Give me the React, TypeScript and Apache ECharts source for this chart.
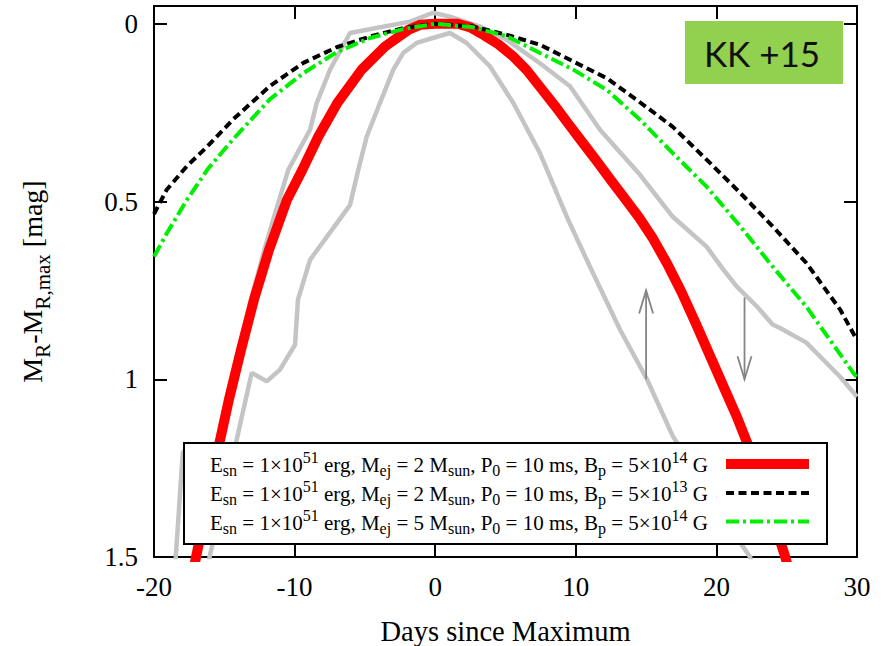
import React, { useEffect, useRef } from "react";
import * as echarts from "echarts";

// ---- data (days since maximum, magnitude below peak) ----
const redModel: [number, number][] = [
  [-17.3, 1.56], [-17.01, 1.5], [-16.16, 1.339], [-15.45, 1.198], [-14.67, 1.057], [-13.81, 0.917],
  [-12.89, 0.776], [-11.82, 0.636], [-10.54, 0.495], [-9.45, 0.411], [-8.31, 0.317], [-6.96, 0.223],
  [-5.23, 0.129], [-3.57, 0.064], [-1.91, 0.017], [-1.08, 0.003], [0, 0], [1.6, 0], [2.5, 0.01],
  [3.5, 0.033], [4.5, 0.058], [5.5, 0.09], [6.5, 0.13], [7.5, 0.18], [8.5, 0.23], [9.5, 0.283],
  [10.5, 0.335], [11.5, 0.387], [12.5, 0.44], [13.5, 0.492], [14.5, 0.545], [15.5, 0.605],
  [16.5, 0.675], [17.5, 0.753], [18.5, 0.84], [19.5, 0.93], [20.5, 1.02], [21.5, 1.11],
  [22.5, 1.21], [23.5, 1.32], [24.5, 1.45], [24.9, 1.5], [25.1, 1.53],
];
const blackModel: [number, number][] = [
  [-20, 0.535], [-19.1, 0.467], [-17.65, 0.4], [-16.2, 0.345], [-14.4, 0.27], [-11.75, 0.175],
  [-9.38, 0.11], [-7.01, 0.066], [-4.64, 0.036], [-2.27, 0.012], [0, 0], [2.71, 0.008], [5.09, 0.031],
  [7.45, 0.059], [9.82, 0.106], [12.2, 0.153], [14.4, 0.216], [16.9, 0.29], [19.3, 0.382], [21.7, 0.476],
  [24.0, 0.57], [26.4, 0.673], [28.8, 0.804], [30, 0.89],
];
const greenModel: [number, number][] = [
  [-20, 0.655], [-19.1, 0.59], [-17.65, 0.495], [-16.2, 0.41], [-14.4, 0.326], [-11.75, 0.212],
  [-9.38, 0.139], [-7.01, 0.08], [-4.64, 0.04], [-2.29, 0.015], [0, 0], [2.7, 0.01], [5.09, 0.035],
  [7.45, 0.082], [9.82, 0.129], [12.2, 0.186], [14.57, 0.27], [16.9, 0.364], [19.3, 0.458], [21.7, 0.57],
  [24.0, 0.683], [26.4, 0.796], [29.7, 0.98], [30, 0.995],
];
const grayWide: [number, number][] = [
  [-18.6, 1.55], [-18.45, 1.5], [-17.95, 1.204], [-15.6, 1.19], [-14.85, 1.057], [-14.0, 0.92],
  [-13.1, 0.776], [-12.15, 0.636], [-11.52, 0.551], [-10.45, 0.411], [-8.9, 0.298], [-8.43, 0.223],
  [-7.48, 0.129], [-6.06, 0.026], [-1.79, -0.006], [-0.16, -0.031], [1.05, -0.02], [3.2, 0.008],
  [5.09, 0.045], [7.45, 0.111], [9.59, 0.176], [11.72, 0.298], [14.57, 0.425], [16.9, 0.543],
  [19.3, 0.627], [20.47, 0.69], [21.47, 0.74], [22.9, 0.796], [24.0, 0.846], [24.52, 0.856],
  [26.4, 0.897], [28.8, 0.993], [30, 1.049],
];
const grayNarrow: [number, number][] = [
  [-16.2, 1.55], [-16.05, 1.5], [-14.12, 1.17], [-13.05, 0.982], [-11.98, 1.006], [-11.04, 0.973],
  [-9.97, 0.903], [-9.76, 0.776], [-8.9, 0.664], [-6.06, 0.51], [-5.47, 0.411], [-4.87, 0.317],
  [-3.93, 0.223], [-2.98, 0.129], [-2.27, 0.082], [-1.32, 0.054], [-0.17, 0.04], [1.05, 0.026],
  [2.24, 0.054], [3.9, 0.12], [5.56, 0.223], [7.45, 0.364], [9.35, 0.542], [11.0, 0.683],
  [13.14, 0.86], [15.06, 1.0], [16.9, 1.16], [21.7, 1.46], [22.4, 1.5], [22.6, 1.53],
];
// arrows: x, start magnitude, end (tip) magnitude
const arrowX = [15, 22];
const arrowFrom = [1.0, 0.77];
const arrowTo = [0.75, 1.0];

const xTicks = [-20, -10, 0, 10, 20, 30];
const yTicks = [0, 0.5, 1, 1.5];

const seriesNames = [
  "Esn=1e51 erg, Mej=2 Msun, P0=10 ms, Bp=5e14 G",
  "Esn=1e51 erg, Mej=2 Msun, P0=10 ms, Bp=5e13 G",
  "Esn=1e51 erg, Mej=5 Msun, P0=10 ms, Bp=5e14 G",
];
const legendMass = ["2", "2", "5"];
const legendBexp = ["14", "13", "14"];
const badgeText = "KK +15";

const SERIF = "Liberation Serif, Times New Roman, serif";

export default function App() {
  const ref = useRef<HTMLDivElement>(null);
  useEffect(() => {
    if (!ref.current) return;
    const chart = echarts.init(ref.current, undefined, { renderer: "svg" });

    const axisCommon = {
      type: "value" as const,
      axisLine: { show: true, onZero: false, lineStyle: { color: "#000", width: 2 } },
      axisTick: { show: true, inside: true, length: 13, lineStyle: { color: "#000", width: 2 } },
      splitLine: { show: false },
    };

    const legendRows = legendMass.map(
      (m, i) =>
        `{m|E}{sb|sn}{m| = 1×10}{sp|51}{m| erg, M}{sb|ej}{m| = ${m} M}{sb|sun}{m|, P}{sb|0}{m| = 10 ms, B}{sb|p}{m| = 5×10}{sp|${legendBexp[i]}}{m| G}`
    );
    const rich = {
      m: { fontSize: 21, fontFamily: SERIF, color: "#000" },
      sb: { fontSize: 16, fontFamily: SERIF, color: "#000", padding: [11, 0, 0, 0] },
      sp: { fontSize: 16, fontFamily: SERIF, color: "#000", padding: [0, 0, 15, 0] },
    };
    const rowY = [465, 494, 522.5];
    const sampleStyles = [
      { stroke: "#ff0000", lineWidth: 10 },
      { stroke: "#000000", lineWidth: 4, lineDash: [8, 4.5] },
      { stroke: "#00ee00", lineWidth: 4, lineDash: [13, 4, 3, 4] },
    ];

    const option: any = {
      animation: false,
      backgroundColor: "#fff",
      grid: { left: 154, right: 28, top: 6, bottom: 89, containLabel: false, outerBoundsMode: "none" },
      xAxis: [
        {
          ...axisCommon,
          position: "bottom",
          min: -20,
          max: 30,
          interval: 10,
          axisLabel: { margin: 16, fontSize: 27, fontFamily: SERIF, color: "#000", customValues: xTicks },
          name: "Days since Maximum",
          nameLocation: "middle",
          nameGap: 60,
          nameTextStyle: { fontSize: 28.5, fontFamily: SERIF, color: "#000" },
        },
        {
          ...axisCommon,
          position: "top",
          min: -20,
          max: 30,
          interval: 10,
          axisLabel: { show: false },
        },
      ],
      yAxis: [
        {
          ...axisCommon,
          position: "left",
          inverse: true,
          min: -0.05,
          max: 1.5,
          axisTick: { ...axisCommon.axisTick, customValues: yTicks },
          axisLabel: { margin: 16, fontSize: 27, fontFamily: SERIF, color: "#000", customValues: yTicks },
          name: "{m|M}{sb|R}{m|-M}{sb|R,max}{m| [mag]}",
          nameLocation: "middle",
          nameGap: 101,
          nameTextStyle: {
            rich: {
              m: { fontSize: 28, fontFamily: SERIF, color: "#000" },
              sb: { fontSize: 21, fontFamily: SERIF, color: "#000", padding: [21, 0, 0, 0] },
            },
          },
        },
        {
          ...axisCommon,
          position: "right",
          inverse: true,
          min: -0.05,
          max: 1.5,
          axisTick: { ...axisCommon.axisTick, customValues: yTicks },
          axisLabel: { show: false },
        },
      ],
      series: [
        {
          type: "line", name: "data A", data: grayWide, showSymbol: false, symbol: "none", z: 2,
          lineStyle: { color: "#c4c4c4", width: 4.5 },
        },
        {
          type: "line", name: "data B", data: grayNarrow, showSymbol: false, symbol: "none", z: 2,
          lineStyle: { color: "#c4c4c4", width: 4.5 },
        },
        {
          type: "custom",
          name: "limits",
          z: 3,
          data: arrowX.map((x, i) => [x, arrowFrom[i], arrowTo[i]]),
          encode: { x: 0, y: [1, 2] },
          renderItem: (_p: any, api: any) => {
            const p0 = api.coord([api.value(0), api.value(1)]);
            const p1 = api.coord([api.value(0), api.value(2)]);
            const dir = Math.sign(p1[1] - p0[1]);
            const hl = 23, hw = 7;
            const st = { stroke: "#858585", lineWidth: 1.8, fill: "none" };
            return {
              type: "group",
              children: [
                { type: "line", shape: { x1: p0[0], y1: p0[1], x2: p1[0], y2: p1[1] }, style: st },
                {
                  type: "polyline",
                  shape: { points: [[p1[0] - hw, p1[1] - dir * hl], [p1[0], p1[1]], [p1[0] + hw, p1[1] - dir * hl]] },
                  style: st,
                },
              ],
            };
          },
        },
        {
          type: "line", name: seriesNames[0], data: redModel, showSymbol: false, symbol: "none", z: 4,
          lineStyle: { color: "#ff0000", width: 10, join: "round" },
        },
        {
          type: "line", name: seriesNames[1], data: blackModel, showSymbol: false, symbol: "none", z: 5,
          lineStyle: { color: "#000000", width: 4, type: [8, 4.5] },
        },
        {
          type: "line", name: seriesNames[2], data: greenModel, showSymbol: false, symbol: "none", z: 6,
          lineStyle: { color: "#00ee00", width: 4, type: [13, 4, 3, 4] },
        },
      ],
      graphic: [
        {
          type: "rect", z: 100,
          shape: { x: 685, y: 21, width: 158, height: 63 },
          style: { fill: "#92d050" },
        },
        {
          type: "text", z: 101, x: 762, y: 53,
          style: { text: badgeText, fontSize: 35, fontFamily: "Lato", fill: "#111", align: "center", verticalAlign: "middle" },
        },
        {
          type: "rect", z: 100,
          shape: { x: 184, y: 443, width: 643, height: 101 },
          style: { fill: "#fff", stroke: "#000", lineWidth: 2 },
        },
        ...legendRows.map((t, i) => ({
          type: "text", z: 101, x: 210, y: rowY[i],
          style: { text: t, rich, align: "left", verticalAlign: "middle" },
        })),
        ...sampleStyles.map((s, i) => ({
          type: "line", z: 101,
          shape: { x1: 726, y1: rowY[i] - 1, x2: 809, y2: rowY[i] - 1 },
          style: { ...s },
        })),
      ],
    };
    chart.setOption(option);
    return () => chart.dispose();
  }, []);
  return (
    <div
      ref={ref}
      style={{ position: "fixed", left: 0, top: 0, width: 885, height: 646, background: "#fff" }}
    />
  );
}
